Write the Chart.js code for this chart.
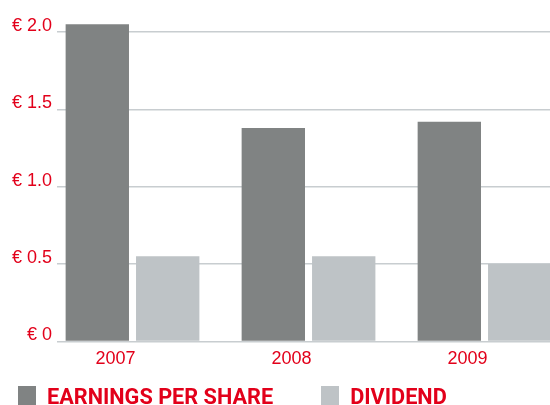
<!DOCTYPE html>
<html>
<head>
<meta charset="utf-8">
<script src="https://cdn.jsdelivr.net/npm/chart.js@4/dist/chart.umd.min.js"></script>
<style>
  html, body { margin: 0; padding: 0; background: #fff; overflow: hidden; }
  #wrap { position: relative; width: 550px; height: 405px; overflow: hidden; }
  #legend { position: absolute; left: 18px; top: 386px; display: flex; align-items: flex-start;
            font-family: Roboto, "Liberation Sans", sans-serif; font-weight: 700; font-size: 21.7px;
            line-height: 22px; color: #e2001a; white-space: nowrap; }
  .item { display: flex; align-items: flex-start; margin-right: 48px; }
  .box { width: 18px; height: 20px; margin-right: 11px; }
</style>
</head>
<body>
<div id="wrap">
  <canvas id="c" width="550" height="405"></canvas>
  <div id="legend"></div>
</div>
<script>
const years = ['2007', '2008', '2009'];
const earningsPerShare = [2.05, 1.38, 1.42];
const dividend = [0.55, 0.55, 0.50];
const yTicks = [0, 0.5, 1.0, 1.5, 2.0];
const seriesNames = ['EARNINGS PER SHARE', 'DIVIDEND'];
const seriesColors = ['#808383', '#bec3c6'];

const red = '#e2001a';
const tickFont = { family: '"Liberation Sans", Arial, sans-serif', size: 18 };

function points(values) {
  return years.map((y, i) => ({ x: Number(y), y: values[i] }));
}

const chart = new Chart(document.getElementById('c'), {
  type: 'bar',
  data: {
    datasets: [
      { label: seriesNames[0], data: points(earningsPerShare), backgroundColor: seriesColors[0], clip: false },
      { label: seriesNames[1], data: points(dividend), backgroundColor: seriesColors[1], clip: false }
    ]
  },
  options: {
    responsive: false,
    animation: false,
    devicePixelRatio: 1,
    layout: { padding: { left: 0, right: 0, top: 32, bottom: 28 } },
    categoryPercentage: 0.8,
    barPercentage: 0.9,
    plugins: { legend: { display: false }, tooltip: { enabled: false } },
    scales: {
      x: {
        type: 'linear',
        offset: false,
        min: 2006.571,
        max: 2009.372,
        grid: { display: false, drawTicks: false, offset: false },
        border: { display: false },
        afterBuildTicks: (s) => { s.ticks = years.map(y => ({ value: Number(y) })); },
        ticks: {
          color: red, font: tickFont, padding: 7, labelOffset: -17,
          autoSkip: false, maxRotation: 0, includeBounds: false,
          callback: (v) => String(v)
        }
      },
      y: {
        min: 0,
        max: 2.0,
        afterBuildTicks: (s) => { s.ticks = yTicks.map(v => ({ value: v })); },
        afterFit: (s) => { s.width = 57; },
        grid: { color: '#c8cdd0', lineWidth: 1.5, drawTicks: false },
        border: { display: false },
        ticks: {
          color: red, font: tickFont, padding: 5, labelOffset: -6,
          callback: (v) => v === 0 ? '€ 0' : '€ ' + Number(v).toFixed(1)
        }
      }
    }
  }
});

// HTML legend generated from the chart's datasets
const legendEl = document.getElementById('legend');
chart.data.datasets.forEach(ds => {
  const item = document.createElement('div');
  item.className = 'item';
  const box = document.createElement('div');
  box.className = 'box';
  box.style.background = ds.backgroundColor;
  const txt = document.createElement('span');
  txt.textContent = ds.label;
  item.appendChild(box);
  item.appendChild(txt);
  legendEl.appendChild(item);
});
</script>
</body>
</html>
